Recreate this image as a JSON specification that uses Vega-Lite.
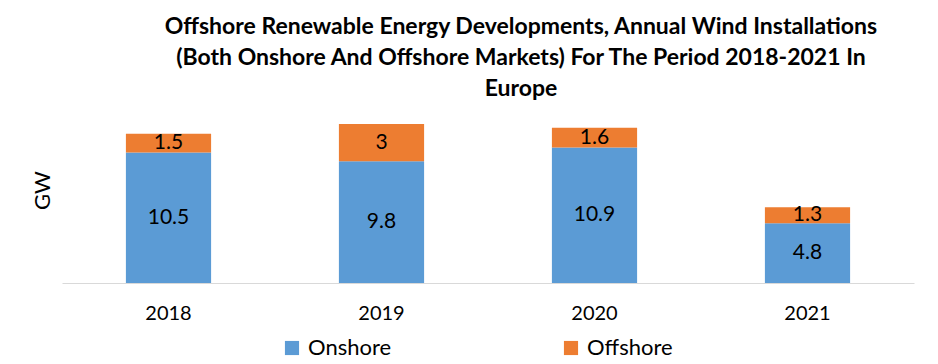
{
  "$schema": "https://vega.github.io/schema/vega-lite/v6.json",
  "width": 852,
  "height": 174,
  "autosize": "none",
  "padding": {"left": 62, "top": 109, "right": 24, "bottom": 81},
  "background": "white",
  "config": {"view": {"stroke": null}, "font": "Lato"},
  "title": {
    "text": ["Offshore Renewable Energy Developments, Annual  Wind Installations", "(Both Onshore And  Offshore Markets) For The Period 2018-2021 In", "Europe"],
    "font": "Lato",
    "fontSize": 23,
    "fontWeight": "bold",
    "color": "#000000",
    "lineHeight": 31,
    "anchor": "middle",
    "dx": 33,
    "offset": 8
  },
  "data": {"values": [
    {"year": "2018", "series": "Onshore", "value": 10.5},
    {"year": "2018", "series": "Offshore", "value": 1.5},
    {"year": "2019", "series": "Onshore", "value": 9.8},
    {"year": "2019", "series": "Offshore", "value": 3},
    {"year": "2020", "series": "Onshore", "value": 10.9},
    {"year": "2020", "series": "Offshore", "value": 1.6},
    {"year": "2021", "series": "Onshore", "value": 4.8},
    {"year": "2021", "series": "Offshore", "value": 1.3}
  ]},
  "transform": [
    {"stack": "value", "groupby": ["year"], "sort": [{"field": "series", "order": "descending"}], "as": ["v0", "v1"]}
  ],
  "encoding": {
    "x": {
      "field": "year", "type": "nominal", "title": null,
      "scale": {"paddingInner": 0.6, "paddingOuter": 0.3},
      "axis": {"labelAngle": 0, "labelFontSize": 20, "labelColor": "#000000", "labelFont": "Lato", "ticks": false, "domainColor": "#d9d9d9", "domainWidth": 1, "labelPadding": 20, "grid": false}
    }
  },
  "layer": [
    {
      "mark": {"type": "bar"},
      "encoding": {
        "y": {
          "field": "v0", "type": "quantitative", "title": "GW",
          "scale": {"domain": [0, 14], "nice": false},
          "axis": {"labels": false, "ticks": false, "domain": false, "grid": false, "titleFontSize": 22, "titleFontWeight": "normal", "titleColor": "#000000", "titleFont": "Lato", "titlePadding": 8, "titleY": 81}
        },
        "y2": {"field": "v1"},
        "color": {
          "field": "series", "type": "nominal",
          "scale": {"domain": ["Onshore", "Offshore"], "range": ["#5B9BD5", "#ED7D31"]},
          "legend": {
            "title": null, "orient": "none", "direction": "horizontal",
            "legendX": 219, "legendY": 228,
            "symbolType": "square", "symbolSize": 200, "symbolStrokeWidth": 0,
            "labelFontSize": 22, "labelColor": "#000000", "labelFont": "Lato",
            "columnPadding": 168, "labelOffset": 5
          }
        }
      }
    },
    {
      "transform": [{"calculate": "(datum.v0 + datum.v1) / 2", "as": "mid"}],
      "mark": {"type": "text", "fontSize": 21, "color": "#000000", "font": "Lato", "baseline": "middle"},
      "encoding": {
        "y": {"field": "mid", "type": "quantitative"},
        "text": {"field": "value", "type": "quantitative"}
      }
    }
  ]
}
